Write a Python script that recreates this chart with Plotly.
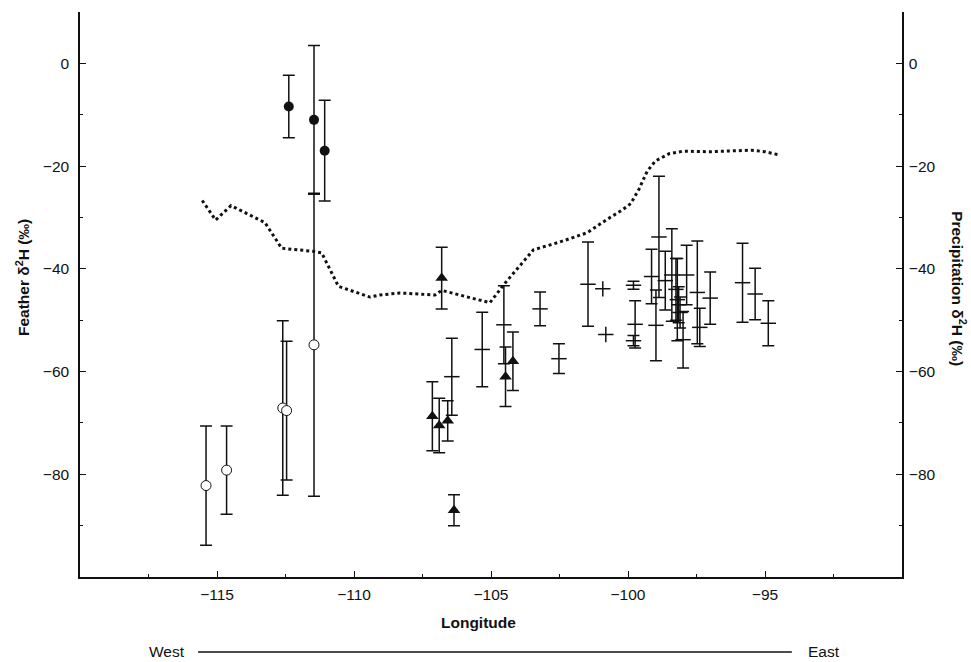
import plotly.graph_objects as go

# ---------------- data ----------------
# filled circles
fc_lon = [-112.38, -111.46, -111.07]
fc_val = [-8.4, -11.0, -17.0]
fc_err = [6.1, 14.5, 9.8]

# open circles
oc_lon = [-115.40, -114.65, -112.60, -112.46, -111.46]
oc_val = [-82.2, -79.2, -67.1, -67.6, -54.8]
oc_err = [11.6, 8.6, 17.0, 13.5, 29.5]

# filled triangles
tr_lon = [-106.80, -107.14, -106.89, -106.58, -106.35, -104.47, -104.20]
tr_val = [-41.8, -68.7, -70.5, -69.6, -87.0, -61.0, -58.0]
tr_err = [6.0, 6.7, 5.3, 3.9, 3.0, 5.8, 5.7]

# mean-tick bars (no symbol)
pb_lon = [-106.43, -105.32, -104.53, -103.21, -102.52, -101.46, -99.80, -99.74,
          -99.80, -99.14, -98.98, -98.87, -98.64, -98.40, -98.25, -98.15, -98.10,
          -98.20, -97.99, -97.86, -97.47, -97.38, -97.00, -95.82, -95.36, -94.88]
pb_val = [-61.0, -55.7, -50.9, -47.8, -57.5, -43.0, -43.2, -50.8,
          -54.0, -41.5, -51.0, -33.8, -42.3, -41.2, -44.0, -47.0, -48.5,
          -46.0, -53.8, -41.2, -44.6, -51.4, -45.7, -42.7, -44.9, -50.6]
pb_err = [7.5, 7.25, 7.6, 3.3, 2.9, 8.2, 0.8, 4.6,
          1.0, 5.3, 6.9, 11.8, 5.7, 9.0, 6.0, 3.5, 3.0,
          8.0, 5.5, 5.8, 10.0, 3.7, 5.1, 7.7, 5.0, 4.4]

# plain plus points
pp_lon = [-100.92, -100.81]
pp_val = [-43.9, -52.8]

# precipitation isoscape line
pr_lon = [-115.54, -115.05, -114.49, -113.25, -112.64, -111.48, -111.18, -110.57,
          -109.42, -109.05, -108.32, -107.04, -106.80, -105.04, -104.49, -103.45,
          -102.5, -101.5, -100.8, -100.2, -99.9, -99.6, -99.3, -99.0, -98.5,
          -98.0, -97.0, -96.0, -95.5, -95.0, -94.5]
pr_val = [-26.7, -30.5, -27.7, -31.0, -36.0, -36.6, -36.9, -43.4,
          -45.5, -45.1, -44.7, -45.1, -44.2, -46.6, -42.8, -36.3,
          -34.8, -33.0, -30.5, -28.5, -27.3, -24.5, -21.0, -19.0, -17.6,
          -17.1, -17.2, -17.0, -16.9, -17.2, -17.8]

x_ticks = [-115, -110, -105, -100, -95]
y_ticks = [0, -20, -40, -60, -80]

# ---------------- figure ----------------
INK = "#111111"
FONT = "Liberation Sans, Arial, Helvetica, sans-serif"


def ebar(err):
    return dict(type="data", array=err, visible=True, color=INK, thickness=1.5, width=6)


fig = go.Figure()

fig.add_trace(go.Scatter(x=pb_lon, y=pb_val, mode="markers", error_y=ebar(pb_err),
                         marker=dict(symbol="line-ew", size=11, color=INK,
                                     line=dict(color=INK, width=1.5)),
                         showlegend=False))
fig.add_trace(go.Scatter(x=pp_lon, y=pp_val, mode="markers",
                         marker=dict(symbol="cross-thin", size=11, color=INK,
                                     line=dict(color=INK, width=1.5)),
                         showlegend=False))
fig.add_trace(go.Scatter(x=pr_lon, y=pr_val, mode="lines", yaxis="y2",
                         line=dict(color=INK, width=3, dash="dot"),
                         showlegend=False))
fig.add_trace(go.Scatter(x=tr_lon, y=tr_val, mode="markers", error_y=ebar(tr_err),
                         marker=dict(symbol="triangle-up", size=11, color=INK,
                                     line=dict(width=0)),
                         showlegend=False))
fig.add_trace(go.Scatter(x=fc_lon, y=fc_val, mode="markers", error_y=ebar(fc_err),
                         marker=dict(symbol="circle", size=10, color=INK,
                                     line=dict(width=0)),
                         showlegend=False))
fig.add_trace(go.Scatter(x=oc_lon, y=oc_val, mode="markers", error_y=ebar(oc_err),
                         marker=dict(symbol="circle", size=10, color="white",
                                     line=dict(color=INK, width=1)),
                         showlegend=False))

axis_common = dict(showline=True, linecolor=INK, linewidth=1.5, ticks="inside",
                   ticklen=6, tickwidth=1.2, tickcolor=INK, showgrid=False,
                   zeroline=False, tickfont=dict(family=FONT, size=15.5, color=INK))

fig.update_layout(
    width=971, height=662,
    margin=dict(l=80, r=69, t=12, b=85),
    paper_bgcolor="white", plot_bgcolor="white",
    font=dict(family=FONT, size=15, color=INK),
    xaxis=dict(range=[-120, -90], tickvals=x_ticks, ticklabelstandoff=3,
               minor=dict(dtick=2.5, tick0=-120, ticks="inside", ticklen=3,
                          tickwidth=1.2, tickcolor=INK),
               **axis_common),
    yaxis=dict(range=[-100, 10], tickvals=y_ticks, ticklabelstandoff=6,
               minor=dict(dtick=10, tick0=0, ticks="inside", ticklen=3,
                          tickwidth=1.2, tickcolor=INK),
               **axis_common),
    yaxis2=dict(range=[-100, 10], tickvals=y_ticks, overlaying="y", side="right",
                ticklabelstandoff=2,
                minor=dict(dtick=10, tick0=0, ticks="inside", ticklen=3,
                           tickwidth=1.2, tickcolor=INK),
                **axis_common),
)

TITLE_FONT = dict(family=FONT, size=15.5, color=INK)
fig.add_annotation(text="<b>Longitude</b>", xref="paper", yref="paper",
                   x=0.485, y=-0.081, xanchor="center", yanchor="middle",
                   showarrow=False, font=TITLE_FONT)
fig.add_annotation(text="<b>Feather δ<sup>2</sup>H (‰)</b>", xref="paper", yref="paper",
                   x=-0.07, y=0.53, xanchor="center", yanchor="middle",
                   textangle=-90, showarrow=False, font=TITLE_FONT)
fig.add_annotation(text="<b>Precipitation δ<sup>2</sup>H (‰)</b>", xref="paper", yref="paper",
                   x=1.069, y=0.51, xanchor="center", yanchor="middle",
                   textangle=90, showarrow=False, font=TITLE_FONT)
fig.add_annotation(text="West", xref="paper", yref="paper", x=0.1436, y=-0.1327,
                   xanchor="right", yanchor="middle", xshift=-11, showarrow=False,
                   font=dict(family=FONT, size=15.5, color=INK))
fig.add_annotation(text="East", xref="paper", yref="paper", x=0.866, y=-0.1327,
                   xanchor="left", yanchor="middle", xshift=14, showarrow=False,
                   font=dict(family=FONT, size=15.5, color=INK))
fig.add_shape(type="line", xref="paper", yref="paper", x0=0.1436, x1=0.866,
              y0=-0.1327, y1=-0.1327, line=dict(color=INK, width=1.5))

fig.write_html("out.html")
